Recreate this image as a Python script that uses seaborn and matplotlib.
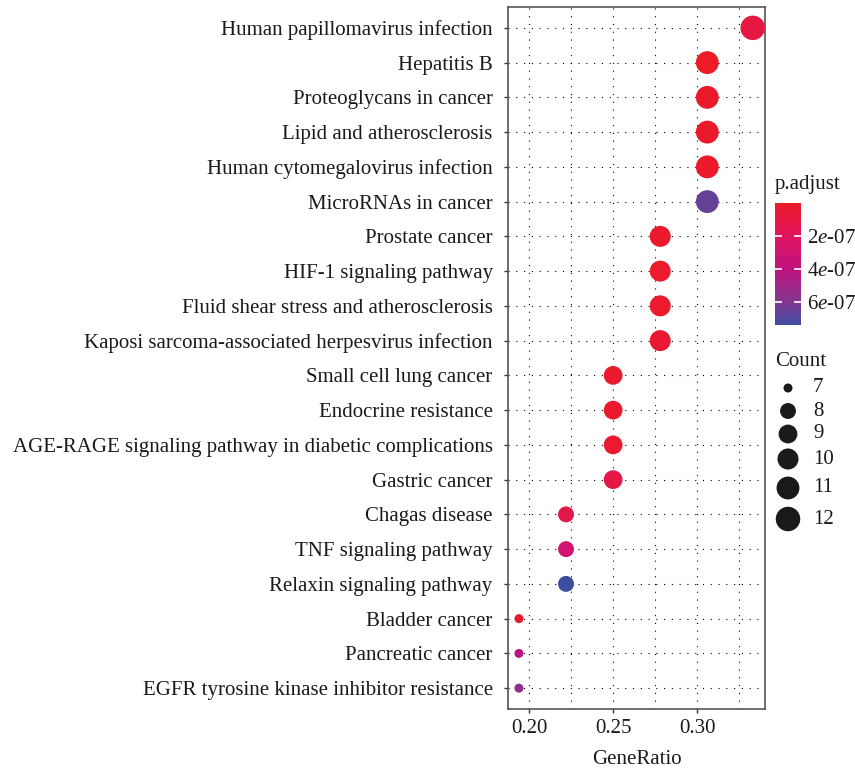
import numpy as np
import pandas as pd
import matplotlib
matplotlib.use("Agg")
import matplotlib.pyplot as plt
import seaborn as sns
from matplotlib.colors import LinearSegmentedColormap, Normalize
from matplotlib.cm import ScalarMappable

# ---------------- data ----------------
terms = [
    "Human papillomavirus infection",
    "Hepatitis B",
    "Proteoglycans in cancer",
    "Lipid and atherosclerosis",
    "Human cytomegalovirus infection",
    "MicroRNAs in cancer",
    "Prostate cancer",
    "HIF-1 signaling pathway",
    "Fluid shear stress and atherosclerosis",
    "Kaposi sarcoma-associated herpesvirus infection",
    "Small cell lung cancer",
    "Endocrine resistance",
    "AGE-RAGE signaling pathway in diabetic complications",
    "Gastric cancer",
    "Chagas disease",
    "TNF signaling pathway",
    "Relaxin signaling pathway",
    "Bladder cancer",
    "Pancreatic cancer",
    "EGFR tyrosine kinase inhibitor resistance",
]
gene_ratio = [0.333, 0.306, 0.306, 0.306, 0.306, 0.306,
              0.278, 0.278, 0.278, 0.278,
              0.250, 0.250, 0.250, 0.250,
              0.222, 0.222, 0.222,
              0.194, 0.194, 0.194]
count = [12, 11, 11, 11, 11, 11, 10, 10, 10, 10, 9, 9, 9, 9, 8, 8, 8, 7, 7, 7]
p_adjust = [1.0e-07, 1.0e-09, 1.5e-08, 1.5e-08, 2.0e-08, 6.6e-07,
            2.0e-08, 2.5e-08, 2.5e-08, 5.0e-08,
            3.0e-08, 3.0e-08, 3.5e-08, 1.2e-07,
            1.3e-07, 3.0e-07, 7.4e-07,
            3.0e-08, 4.2e-07, 5.6e-07]
count_levels = [7, 8, 9, 10, 11, 12]
cbar_ticks = [2e-07, 4e-07, 6e-07]
cbar_labels = [r"2$\mathit{e}$-07", r"4$\mathit{e}$-07", r"6$\mathit{e}$-07"]

df = pd.DataFrame({"Description": terms, "GeneRatio": gene_ratio,
                   "Count": count, "p.adjust": p_adjust})

# ---------------- style ----------------
plt.rcParams["font.family"] = ["Liberation Serif", "DejaVu Serif"]
plt.rcParams["mathtext.fontset"] = "custom"
plt.rcParams["mathtext.rm"] = "Liberation Serif"
plt.rcParams["mathtext.it"] = "Liberation Serif:italic"
FS = 15
TXT = "#1a1a1a"

cmap = LinearSegmentedColormap.from_list(
    "padj", [(0.0, "#EC1B26"), (0.27, "#E0145F"), (0.54, "#C0137F"),
             (0.81, "#83388F"), (1.0, "#3D4DA0")])
vmin, vmax = 0.0, 7.4e-07
norm = Normalize(vmin=vmin, vmax=vmax)

# diameter (px) following ggplot area scaling
def diam_px(c):
    return 9 + 15.5 * np.sqrt((c - 7) / 5.0)

size_map = {c: (diam_px(c) * 0.72) ** 2 for c in count_levels}

fig = plt.figure(figsize=(8.55, 7.73), dpi=100)
ax = fig.add_axes([508 / 855, 1 - 709 / 773, (765 - 508) / 855, (709 - 7) / 773])

sns.scatterplot(data=df, x="GeneRatio", y="Description", hue="p.adjust",
                size="Count", sizes=size_map, palette=cmap, hue_norm=norm,
                legend=False, ax=ax, edgecolor="none", linewidth=0, zorder=3)

ax.set_ylim(len(terms) - 0.4, -0.6)
ax.set_xlim(0.1875, 0.3403)
ax.set_xticks([0.20, 0.25, 0.30])
ax.set_xticklabels(["0.20", "0.25", "0.30"])
ax.set_xticks([0.225, 0.275, 0.325], minor=True)
ax.set_axisbelow(True)
ax.grid(which="both", axis="both", color="black", linestyle=(0, (1, 6)), linewidth=0.8)
ax.tick_params(which="minor", length=0)
ax.tick_params(which="major", length=3, width=1, color="#333333",
               labelsize=FS, labelcolor=TXT)
ax.tick_params(axis="y", pad=8)
ax.tick_params(axis="x", pad=4)
ax.set_xlabel("GeneRatio", fontsize=FS, color=TXT, labelpad=9)
ax.set_ylabel("")
for s in ax.spines.values():
    s.set_color("#555555")
    s.set_linewidth(1.2)

# ---------------- colorbar ----------------
cax = fig.add_axes([775 / 855, 1 - 325 / 773, 26 / 855, 122 / 773])
sm = ScalarMappable(norm=norm, cmap=cmap)
cb = fig.colorbar(sm, cax=cax)
cb.outline.set_visible(False)
cax.set_ylim(vmax, vmin)
cb.set_ticks(cbar_ticks)
cb.set_ticklabels(cbar_labels)
cax.tick_params(direction="in", color="white", length=5, width=1.2,
                left=True, right=True, labelleft=False, labelright=True,
                labelsize=FS, labelcolor=TXT, pad=4)
fig.text(775 / 855, 1 - 185 / 773, "p.adjust", fontsize=FS, color=TXT, va="center")

# ---------------- size legend (manual, ggplot-like spacing) ----------------
lax = fig.add_axes([0, 0, 1, 1], facecolor="none")
lax.set_xlim(0, 855)
lax.set_ylim(773, 0)
lax.axis("off")
lax.text(775, 362, "Count", fontsize=FS, color=TXT, va="center", ha="left")
row_y = [388, 411, 434, 459, 488, 519]
for c, yy in zip(count_levels, row_y):
    lax.scatter([788], [yy], s=size_map[c], color=TXT, edgecolor="none")
    lax.text(813, yy, str(c), fontsize=FS, color=TXT, va="center", ha="left")

fig.savefig("out.png", dpi=100)
